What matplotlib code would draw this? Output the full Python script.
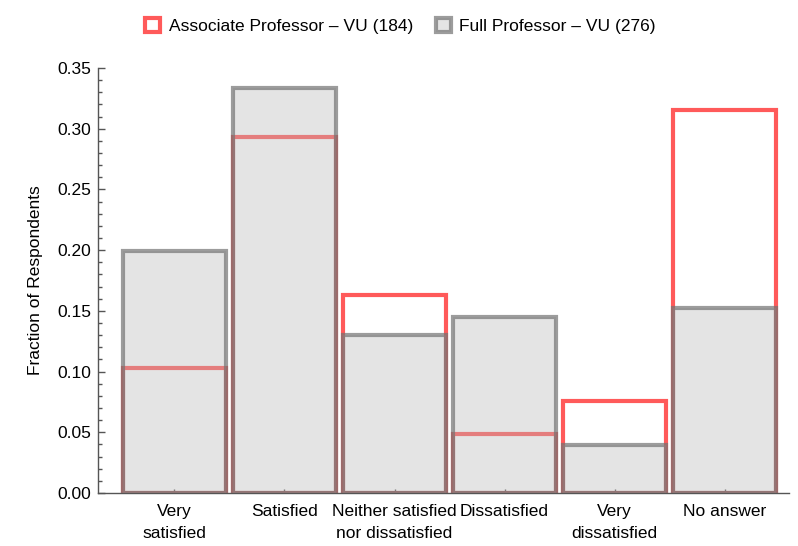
import matplotlib.pyplot as plt
from matplotlib.patches import Patch
from matplotlib.ticker import MultipleLocator, FormatStrFormatter
import numpy as np

plt.rcParams['font.family'] = ['Liberation Sans', 'DejaVu Sans']

categories = ["Very\nsatisfied", "Satisfied", "Neither satisfied\nnor dissatisfied",
              "Dissatisfied", "Very\ndissatisfied", "No answer"]
# fractions of respondents
assoc_vals = [19/184, 54/184, 30/184, 9/184, 14/184, 58/184]
full_vals = [55/276, 92/276, 36/276, 40/276, 11/276, 42/276]
assoc_label = "Associate Professor \u2013 VU (184)"
full_label = "Full Professor \u2013 VU (276)"

RED = '#ff5a5a'
GREY_EDGE = (0.45, 0.45, 0.45, 0.7)
GREY_FILL = (0.72, 0.72, 0.72, 0.38)
FS = 12.5

fig = plt.figure(figsize=(7.98, 5.46), dpi=100)
ax = fig.add_axes([0.1228, 0.0971, 0.866, 0.7784])

x = np.arange(1, len(categories) + 1)
w = 0.93
ax.bar(x, assoc_vals, width=w, facecolor='none', edgecolor=RED, linewidth=3, zorder=2)
ax.bar(x, full_vals, width=w, facecolor=GREY_FILL, edgecolor=GREY_EDGE, linewidth=3, zorder=3)

ax.set_xlim(0.305, 6.586)
ax.set_ylim(0, 0.35)
ax.set_xticks(x)
ax.set_xticklabels(categories, fontsize=FS, linespacing=1.55)
ax.yaxis.set_major_locator(MultipleLocator(0.05))
ax.yaxis.set_minor_locator(MultipleLocator(0.01))
ax.yaxis.set_major_formatter(FormatStrFormatter('%.2f'))
ax.tick_params(axis='y', labelsize=FS)

ax.tick_params(axis='y', which='major', direction='in', length=5, width=1, color='#555555', pad=5)
ax.tick_params(axis='y', which='minor', direction='in', length=3, width=1, color='#555555')
ax.tick_params(axis='x', which='major', direction='in', length=3, width=1, color='#555555', pad=8)

for s in ['top', 'right']:
    ax.spines[s].set_visible(False)
for s in ['left', 'bottom']:
    ax.spines[s].set_color('#555555')
    ax.spines[s].set_linewidth(1)

ax.set_ylabel("Fraction of Respondents", fontsize=FS, labelpad=10)

handles = [Patch(facecolor='white', edgecolor=RED, linewidth=3, label=assoc_label),
           Patch(facecolor=GREY_FILL, edgecolor=GREY_EDGE, linewidth=3, label=full_label)]
fig.legend(handles=handles, loc='center', bbox_to_anchor=(0.502, 0.953), ncol=2,
           frameon=False, fontsize=FS, handlelength=0.85, handleheight=0.85,
           handletextpad=0.5, columnspacing=1.3)

fig.savefig('out.png', dpi=100)
